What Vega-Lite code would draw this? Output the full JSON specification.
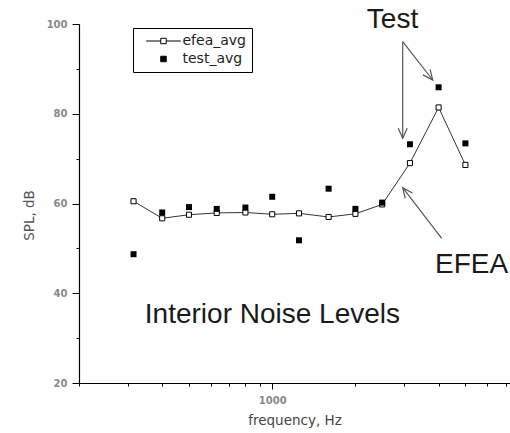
{
  "$schema": "https://vega.github.io/schema/vega-lite/v6.json",
  "width": 431,
  "height": 359,
  "autosize": {"type": "none"},
  "padding": {"left": 79, "top": 24, "right": 0, "bottom": 50},
  "background": "white",
  "config": {"view": {"stroke": null}, "axis": {"grid": false}},
  "datasets": {
    "pts": [
      {"freq": 315, "series": "efea_avg", "spl": 60.5},
      {"freq": 400, "series": "efea_avg", "spl": 56.7},
      {"freq": 500, "series": "efea_avg", "spl": 57.5},
      {"freq": 630, "series": "efea_avg", "spl": 57.9},
      {"freq": 800, "series": "efea_avg", "spl": 58.0},
      {"freq": 1000, "series": "efea_avg", "spl": 57.6},
      {"freq": 1250, "series": "efea_avg", "spl": 57.8},
      {"freq": 1600, "series": "efea_avg", "spl": 57.0},
      {"freq": 2000, "series": "efea_avg", "spl": 57.7},
      {"freq": 2500, "series": "efea_avg", "spl": 59.8},
      {"freq": 3150, "series": "efea_avg", "spl": 69.0},
      {"freq": 4000, "series": "efea_avg", "spl": 81.4},
      {"freq": 5000, "series": "efea_avg", "spl": 68.6},
      {"freq": 315, "series": "test_avg", "spl": 48.7},
      {"freq": 400, "series": "test_avg", "spl": 58.0},
      {"freq": 500, "series": "test_avg", "spl": 59.2},
      {"freq": 630, "series": "test_avg", "spl": 58.8},
      {"freq": 800, "series": "test_avg", "spl": 59.1},
      {"freq": 1000, "series": "test_avg", "spl": 61.5},
      {"freq": 1250, "series": "test_avg", "spl": 51.8},
      {"freq": 1600, "series": "test_avg", "spl": 63.3},
      {"freq": 2000, "series": "test_avg", "spl": 58.8},
      {"freq": 2500, "series": "test_avg", "spl": 60.2},
      {"freq": 3150, "series": "test_avg", "spl": 73.2},
      {"freq": 4000, "series": "test_avg", "spl": 85.9},
      {"freq": 5000, "series": "test_avg", "spl": 73.4}
    ],
    "notes": [
      {"freq": 2724, "spl": 99.04, "text": "Test"},
      {"freq": 1002, "spl": 33.3, "text": "Interior Noise Levels"},
      {"freq": 5263, "spl": 44.58, "text": "EFEA"}
    ],
    "arrows": [
      {"freq": 2966, "spl": 96.06, "freq2": 2966, "spl2": 74.53},
      {"freq": 2966, "spl": 96.06, "freq2": 3808, "spl2": 87.52},
      {"freq": 4104, "spl": 52.25, "freq2": 2966, "spl2": 63.52}
    ],
    "heads": [
      {"freq": 2966, "spl": 74.53, "angle": 90},
      {"freq": 3808, "spl": 87.52, "angle": 52},
      {"freq": 2966, "spl": 63.52, "angle": 232.6}
    ]
  },
  "encoding": {
    "x": {"field": "freq", "type": "quantitative", "scale": {"type": "log", "domain": [200, 7250], "nice": false}, "axis": null},
    "y": {"field": "spl", "type": "quantitative", "scale": {"domain": [20, 100], "nice": false, "zero": false}, "axis": null}
  },
  "resolve": {"axis": {"x": "independent", "y": "independent"}},
  "layer": [
    {
      "data": {"name": "pts"},
      "transform": [{"filter": "datum.series == 'efea_avg'"}],
      "mark": {"type": "line", "color": "#333", "strokeWidth": 1},
      "encoding": {
        "x": {"field": "freq", "type": "quantitative", "scale": {"type": "log", "domain": [200, 7250], "nice": false},
          "axis": {"orient": "bottom", "values": [1000], "format": "d", "tickSize": 6, "tickColor": "black", "domainColor": "black", "domainWidth": 1.2,
            "labelFont": "DejaVu Sans", "labelFontWeight": "bold", "labelFontSize": 10, "labelColor": "#888", "labelPadding": 6,
            "title": "frequency, Hz", "titleFont": "DejaVu Sans", "titleFontSize": 13.5, "titleFontWeight": "normal", "titleColor": "#444", "titlePadding": 8}},
        "y": {"field": "spl", "type": "quantitative", "scale": {"domain": [20, 100], "nice": false, "zero": false},
          "axis": {"orient": "left", "values": [20, 40, 60, 80, 100], "tickSize": 7, "tickColor": "black", "domainColor": "black", "domainWidth": 1.2,
            "labelFont": "DejaVu Sans", "labelFontWeight": "bold", "labelFontSize": 10, "labelColor": "#888", "labelPadding": 5,
            "title": "SPL, dB", "titleFont": "DejaVu Sans", "titleFontSize": 13.5, "titleFontWeight": "normal", "titleColor": "#555", "titlePadding": 10, "titleY": 191}}
      }
    },
    {
      "data": {"name": "pts"},
      "transform": [{"filter": "datum.series == 'efea_avg'"}],
      "mark": {"type": "square", "fill": "white", "stroke": "black", "strokeWidth": 1, "size": 26, "opacity": 1},
      "encoding": {
        "x": {"field": "freq", "type": "quantitative", "scale": {"type": "log", "domain": [200, 7250], "nice": false},
          "axis": {"orient": "bottom", "values": [200, 300, 400, 500, 600, 700, 800, 900, 2000, 3000, 4000, 5000, 6000, 7000], "tickSize": 3, "tickColor": "black", "domain": false, "labels": false, "title": null}},
        "y": {"field": "spl", "type": "quantitative", "scale": {"domain": [20, 100], "nice": false, "zero": false},
          "axis": {"orient": "left", "values": [30, 50, 70, 90], "tickSize": 3, "tickColor": "black", "domain": false, "labels": false, "title": null}}
      }
    },
    {
      "data": {"name": "pts"},
      "transform": [{"filter": "datum.series == 'test_avg'"}],
      "mark": {"type": "square", "color": "black", "size": 36, "opacity": 1}
    },
    {
      "data": {"name": "pts"},
      "mark": {"type": "point", "filled": true, "opacity": 0, "strokeWidth": 1},
      "encoding": {
        "shape": {"field": "series", "type": "nominal",
          "scale": {"domain": ["efea_avg", "test_avg"], "range": ["M-6.3,0H-1M1,0H6.3M-1,-1H1V1H-1Z", "square"]},
          "legend": {"orient": "none", "legendX": 54, "legendY": 4, "title": null, "strokeColor": "black", "fillColor": "white", "padding": 6,
            "symbolSize": 30, "symbolOffset": 17.5, "labelOffset": 12, "symbolOpacity": 1, "symbolStrokeWidth": 1,
            "labelFont": "DejaVu Sans", "labelFontSize": 14, "labelColor": "#222", "rowPadding": 4, "labelLimit": 200}},
        "fill": {"field": "series", "type": "nominal",
          "scale": {"domain": ["efea_avg", "test_avg"], "range": ["white", "black"]},
          "legend": {"orient": "none", "legendX": 54, "legendY": 4, "title": null, "strokeColor": "black", "fillColor": "white", "padding": 6,
            "symbolSize": 30, "symbolOffset": 17.5, "labelOffset": 12, "symbolOpacity": 1, "symbolStrokeWidth": 1,
            "labelFont": "DejaVu Sans", "labelFontSize": 14, "labelColor": "#222", "rowPadding": 4, "labelLimit": 200}},
        "stroke": {"field": "series", "type": "nominal",
          "scale": {"domain": ["efea_avg", "test_avg"], "range": ["black", "black"]},
          "legend": {"orient": "none", "legendX": 54, "legendY": 4, "title": null, "strokeColor": "black", "fillColor": "white", "padding": 6,
            "symbolSize": 30, "symbolOffset": 17.5, "labelOffset": 12, "symbolOpacity": 1, "symbolStrokeWidth": 1,
            "labelFont": "DejaVu Sans", "labelFontSize": 14, "labelColor": "#222", "rowPadding": 4, "labelLimit": 200}}
      }
    },
    {
      "data": {"name": "arrows"},
      "mark": {"type": "rule", "color": "#555", "strokeWidth": 1.2},
      "encoding": {
        "x2": {"field": "freq2"},
        "y2": {"field": "spl2"}
      }
    },
    {
      "data": {"name": "heads"},
      "mark": {"type": "point", "shape": "M-1,-0.45L0,0L-1,0.45", "filled": false, "stroke": "#555", "strokeWidth": 1.2, "size": 400, "opacity": 1},
      "encoding": {
        "angle": {"field": "angle", "type": "quantitative", "scale": null}
      }
    },
    {
      "data": {"name": "notes"},
      "mark": {"type": "text", "font": "Liberation Sans", "fontSize": 28, "align": "center", "baseline": "alphabetic", "color": "#1a1a1a"},
      "encoding": {
        "text": {"field": "text"}
      }
    }
  ]
}
